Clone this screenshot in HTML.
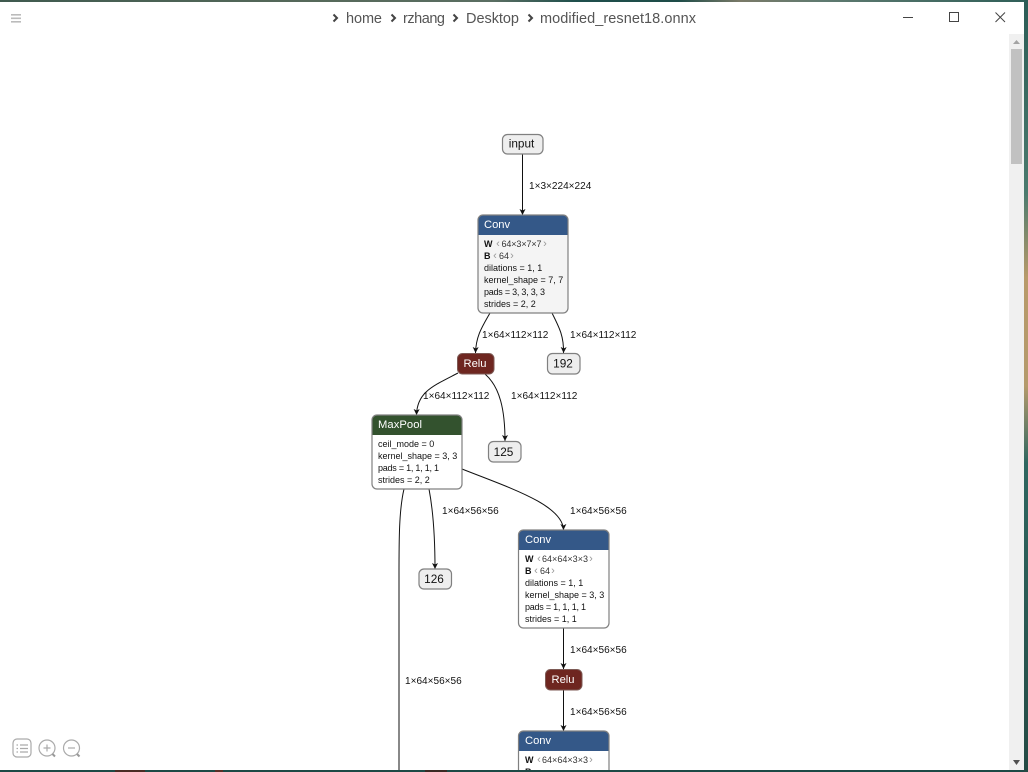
<!DOCTYPE html>
<html><head><meta charset="utf-8"><style>
html,body{margin:0;padding:0;width:1028px;height:772px;overflow:hidden;background:#1f4f4a}
svg{display:block}
text{font-family:"Liberation Sans","DejaVu Sans",sans-serif}
.e{font-size:10.05px;fill:#111}
.t{font-size:11.2px;fill:#fff}
.a{font-size:9px;fill:#111}
.n{font-size:11.8px;fill:#111;text-anchor:middle}
.p{font-size:14.5px;fill:#555}
.g{fill:#333;font-size:9px}
.k{fill:#999;font-size:11px;text-anchor:middle}
.l{fill:none;stroke:#111;stroke-width:1}
.b{fill:none;stroke:#808080;stroke-width:1.2}
</style></head><body>
<svg width="1028" height="772" viewBox="0 0 1028 772" xmlns="http://www.w3.org/2000/svg">
<defs>
<linearGradient id="top" x1="0" x2="1" y1="0" y2="0">
<stop offset="0" stop-color="#3f5a4f"/><stop offset=".3" stop-color="#56695a"/><stop offset=".48" stop-color="#5a6e62"/><stop offset=".56" stop-color="#1f4f4c"/><stop offset=".66" stop-color="#1e4c48"/><stop offset=".72" stop-color="#7a7a68"/><stop offset=".8" stop-color="#5f7a70"/><stop offset="1" stop-color="#2f5f58"/>
</linearGradient>
<linearGradient id="right" x1="0" x2="0" y1="0" y2="1">
<stop offset="0" stop-color="#2b5c56"/><stop offset=".25" stop-color="#4b7a6e"/><stop offset=".36" stop-color="#b89a6a"/><stop offset=".5" stop-color="#b49a6c"/><stop offset=".6" stop-color="#2e6660"/><stop offset="1" stop-color="#244a44"/>
</linearGradient>
<marker id="m" markerWidth="7" markerHeight="7" refX="6" refY="3" orient="auto" markerUnits="userSpaceOnUse"><path d="M0 0 L6 3 L0 6 L1.5 3 Z" fill="#111"/></marker>
</defs>
<rect width="1028" height="772" fill="#1c4a46"/>
<rect width="1028" height="2" fill="url(#top)"/>
<rect x="1024" width="4" height="772" fill="url(#right)"/>
<rect x="0" y="2" width="1024" height="768" fill="#fff"/>

<!-- edges -->
<path class="l" marker-end="url(#m)" d="M522.5 154 L522.5 215"/>
<path class="l" marker-end="url(#m)" d="M490 313 C482 327 476 336 475.5 353"/>
<path class="l" marker-end="url(#m)" d="M552 313 C559 327 564 336 563.5 353"/>
<path class="l" marker-end="url(#m)" d="M458 373 C433 386 417 392 416.5 415"/>
<path class="l" marker-end="url(#m)" d="M485 374 C500 387 505 410 505 441"/>
<path class="l" marker-end="url(#m)" d="M429 489 C433 510 435 535 435 569"/>
<path class="l" marker-end="url(#m)" d="M462 469 C510 488 563 505 563.5 530"/>
<path class="l" d="M404 489 C399 510 399 540 399 575 L399 770"/>
<path class="l" marker-end="url(#m)" d="M563.5 628 L563.5 669"/>
<path class="l" marker-end="url(#m)" d="M563.5 690 L563.5 731"/>

<!-- edge labels -->
<text class="e" x="529" y="189">1×3×224×224</text>
<text class="e" x="482" y="338">1×64×112×112</text>
<text class="e" x="570" y="338">1×64×112×112</text>
<text class="e" x="423" y="399">1×64×112×112</text>
<text class="e" x="511" y="399">1×64×112×112</text>
<text class="e" x="442" y="514">1×64×56×56</text>
<text class="e" x="570" y="514">1×64×56×56</text>
<text class="e" x="405" y="684">1×64×56×56</text>
<text class="e" x="570" y="653">1×64×56×56</text>
<text class="e" x="570" y="715">1×64×56×56</text>

<!-- input -->
<rect x="502.5" y="134.5" width="40.5" height="19.5" rx="5" fill="#eee" stroke="#808080" stroke-width="1.2"/>
<text class="n" x="521.5" y="147.5">input</text>

<!-- Conv 1 -->
<rect x="478.5" y="215.5" width="89" height="97.5" rx="5" fill="#f4f4f4"/>
<path d="M478 235 V220 a5 5 0 0 1 5 -5 H563 a5 5 0 0 1 5 5 V235 Z" fill="#345888"/>
<rect class="b" x="478" y="215" width="90" height="98" rx="5"/>
<text class="t" x="484" y="228">Conv</text>
<text class="a" x="484" y="247" font-weight="bold">W</text>
<text class="k" x="498" y="247">‹</text><text class="g" x="501.5" y="247" textLength="40">64×3×7×7</text><text class="k" x="545" y="247">›</text>
<text class="a" x="484" y="259" font-weight="bold">B</text>
<text class="k" x="495" y="259">‹</text><text class="g" x="499" y="259" textLength="10">64</text><text class="k" x="512" y="259">›</text>
<text class="a" x="484" y="271">dilations = 1, 1</text>
<text class="a" x="484" y="283">kernel_shape = 7, 7</text>
<text class="a" x="484" y="295" textLength="61">pads = 3, 3, 3, 3</text>
<text class="a" x="484" y="307">strides = 2, 2</text>

<!-- Relu 1 -->
<rect x="457.5" y="353.5" width="36.5" height="20.5" rx="5" fill="#6e2620" stroke="#7d5a55" stroke-width="1"/>
<text class="t" x="475" y="367" text-anchor="middle">Relu</text>

<!-- 192 -->
<rect x="547.5" y="353.5" width="32.5" height="20.5" rx="5" fill="#eee" stroke="#808080" stroke-width="1.2"/>
<text class="n" x="563" y="367.5">192</text>

<!-- MaxPool -->
<rect x="372.5" y="415.5" width="89" height="73" rx="5" fill="#fff"/>
<path d="M372 435 V420 a5 5 0 0 1 5 -5 H457 a5 5 0 0 1 5 5 V435 Z" fill="#33522e"/>
<rect class="b" x="372" y="415" width="90" height="74" rx="5"/>
<text class="t" x="378" y="428" textLength="44">MaxPool</text>
<text class="a" x="378" y="447">ceil_mode = 0</text>
<text class="a" x="378" y="459">kernel_shape = 3, 3</text>
<text class="a" x="378" y="471" textLength="61">pads = 1, 1, 1, 1</text>
<text class="a" x="378" y="483">strides = 2, 2</text>

<!-- 125 -->
<rect x="488.5" y="441.5" width="32.5" height="20.5" rx="5" fill="#eee" stroke="#808080" stroke-width="1.2"/>
<text class="n" x="503.5" y="456">125</text>

<!-- 126 -->
<rect x="419" y="569" width="32.5" height="20" rx="5" fill="#eee" stroke="#808080" stroke-width="1.2"/>
<text class="n" x="434" y="583">126</text>

<!-- Conv 2 -->
<rect x="519" y="530.5" width="89.5" height="97" rx="5" fill="#fff"/>
<path d="M518.5 550 V535 a5 5 0 0 1 5 -5 H604 a5 5 0 0 1 5 5 V550 Z" fill="#345888"/>
<rect class="b" x="518.5" y="530" width="90.5" height="98" rx="5"/>
<text class="t" x="525" y="543">Conv</text>
<text class="a" x="525" y="562" font-weight="bold">W</text>
<text class="k" x="539" y="562">‹</text><text class="g" x="542" y="562" textLength="46">64×64×3×3</text><text class="k" x="591" y="562">›</text>
<text class="a" x="525" y="574" font-weight="bold">B</text>
<text class="k" x="536" y="574">‹</text><text class="g" x="540" y="574" textLength="10">64</text><text class="k" x="553" y="574">›</text>
<text class="a" x="525" y="586">dilations = 1, 1</text>
<text class="a" x="525" y="598">kernel_shape = 3, 3</text>
<text class="a" x="525" y="610" textLength="61">pads = 1, 1, 1, 1</text>
<text class="a" x="525" y="622">strides = 1, 1</text>

<!-- Relu 2 -->
<rect x="545.5" y="669.5" width="36.5" height="20.5" rx="5" fill="#6e2620" stroke="#7d5a55" stroke-width="1"/>
<text class="t" x="563" y="683" text-anchor="middle">Relu</text>

<!-- Conv 3 -->
<rect x="519" y="731.5" width="89.5" height="50" rx="5" fill="#fff"/>
<path d="M518.5 751 V736 a5 5 0 0 1 5 -5 H604 a5 5 0 0 1 5 5 V751 Z" fill="#345888"/>
<rect class="b" x="518.5" y="731" width="90.5" height="60" rx="5"/>
<text class="t" x="525" y="744">Conv</text>
<text class="a" x="525" y="763" font-weight="bold">W</text>
<text class="k" x="539" y="763">‹</text><text class="g" x="542" y="763" textLength="46">64×64×3×3</text><text class="k" x="591" y="763">›</text>
<text class="a" x="525" y="775" font-weight="bold">B</text>

<!-- title bar -->
<rect x="11" y="14" width="10" height="1.6" fill="#bbb"/>
<rect x="11" y="17.5" width="10" height="1.6" fill="#bbb"/>
<rect x="11" y="21" width="10" height="1.6" fill="#bbb"/>
<g fill="none" stroke="#444" stroke-width="2">
<path d="M333.5 14.5 L337 18 L333.5 21.5"/>
<path d="M391.5 14.5 L395 18 L391.5 21.5"/>
<path d="M453.5 14.5 L457 18 L453.5 21.5"/>
<path d="M528.5 14.5 L532 18 L528.5 21.5"/>
</g>
<text class="p" x="346" y="23" textLength="36">home</text>
<text class="p" x="403" y="23" textLength="42">rzhang</text>
<text class="p" x="466" y="23" textLength="53">Desktop</text>
<text class="p" x="540" y="23" textLength="156">modified_resnet18.onnx</text>
<rect x="903" y="17" width="10" height="1" fill="#444"/>
<rect x="949.5" y="12.5" width="9" height="9" fill="none" stroke="#444" stroke-width="1"/>
<path d="M995.5 12.5 L1005 22 M1005 12.5 L995.5 22" stroke="#444" stroke-width="1" fill="none"/>

<!-- scrollbar -->
<rect x="1009" y="34" width="15" height="736" fill="#f0f0f0"/>
<rect x="1011" y="49" width="11" height="115" fill="#c1c1c1"/>
<path d="M1013 44 L1016.5 40 L1020 44 Z" fill="#a3a3a3"/>
<path d="M1013 760 L1020 760 L1016.5 765 Z" fill="#505050"/>

<!-- bottom tools -->
<g fill="none" stroke="#aaa" stroke-width="1.2">
<rect x="13" y="739" width="18" height="18" rx="4"/>
<path d="M20 745 H28 M20 748.5 H28 M20 752 H28 M16.5 745 H18 M16.5 748.5 H18 M16.5 752 H18"/>
<circle cx="47" cy="748" r="8"/>
<path d="M43.5 748 H50.5 M47 744.5 V751.5"/>
<path d="M52.5 754 L55 756.5" stroke-width="2" stroke="#999"/>
<circle cx="71.5" cy="748" r="8"/>
<path d="M68 748 H75"/>
<path d="M77 754 L79.5 756.5" stroke-width="2" stroke="#999"/>
</g>

<!-- window bottom -->
<rect x="0" y="770" width="1024" height="2" fill="#1c4a46"/>
<rect x="115" y="770" width="30" height="2" fill="#4a2c24"/>
<rect x="215" y="770" width="8" height="2" fill="#5a2f26"/>
<rect x="425" y="770" width="22" height="2" fill="#3a2a24"/>
</svg>
</body></html>
